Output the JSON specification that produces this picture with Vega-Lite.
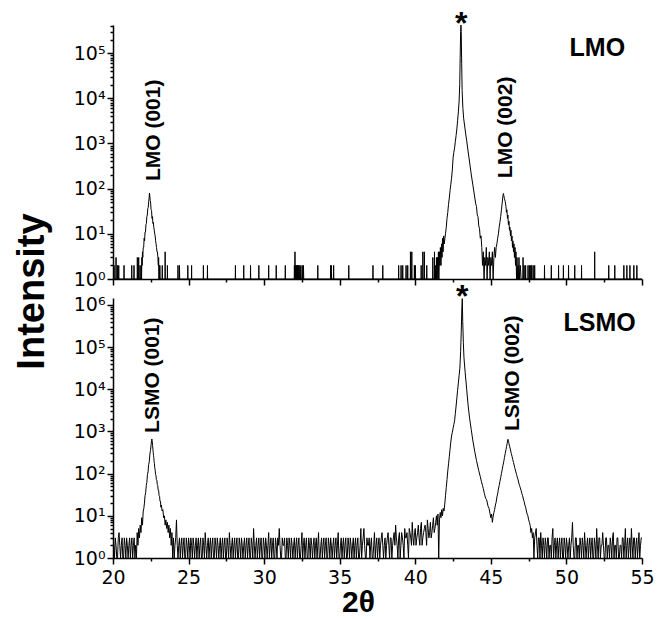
{
"$schema": "https://vega.github.io/schema/vega-lite/v6.json",
"background": "white",
"padding": {"left": 13, "top": 8, "right": 5, "bottom": 2},
"config": {
  "view": {"stroke": null},
  "axis": {"domainColor": "black", "domainWidth": 1.5, "tickColor": "black", "tickWidth": 1.5, "labelColor": "black", "labelFont": "DejaVu Sans", "labelFontSize": 19, "grid": false, "titleColor": "black", "labelOverlap": false, "labelFlush": false}
},
"spacing": 19,
"bounds": "flush",
"datasets": {
"lmo": [
{"x":20.0,"y":1},{"x":20.06,"y":1},{"x":20.07,"y":2},{"x":20.08,"y":1},{"x":20.19,"y":1},{"x":20.2,"y":3},{"x":20.21,"y":1},{"x":20.28,"y":1},{"x":20.29,"y":2},{"x":20.3,"y":1},{"x":20.37,"y":1},{"x":20.38,"y":2},{"x":20.39,"y":1},{"x":20.72,"y":1},{"x":20.73,"y":2},{"x":20.74,"y":1},{"x":21.23,"y":1},{"x":21.24,"y":2},{"x":21.25,"y":1},{"x":21.38,"y":1},{"x":21.39,"y":2},{"x":21.4,"y":1},{"x":21.6,"y":1},{"x":21.61,"y":3},{"x":21.62,"y":1},{"x":21.69,"y":1},{"x":21.7,"y":3},{"x":21.71,"y":1},{"x":21.78,"y":1},{"x":21.79,"y":2},{"x":21.8,"y":1},
{"x":21.85,"y":1},{"x":21.87,"y":2},{"x":21.89,"y":1},{"x":21.91,"y":3},{"x":21.93,"y":2},{"x":21.95,"y":4},{"x":21.97,"y":3},{"x":22.0,"y":5},{"x":22.03,"y":5},{"x":22.06,"y":8},{"x":22.09,"y":7},{"x":22.12,"y":11},{"x":22.15,"y":11},{"x":22.18,"y":16},{"x":22.21,"y":17},{"x":22.24,"y":24},{"x":22.27,"y":26},{"x":22.3,"y":36},{"x":22.33,"y":38},{"x":22.36,"y":52},{"x":22.39,"y":62},{"x":22.41,"y":80},{"x":22.43,"y":72},{"x":22.46,"y":55},{"x":22.49,"y":48},{"x":22.52,"y":34},{"x":22.55,"y":33},{"x":22.58,"y":22},{"x":22.61,"y":24},{"x":22.64,"y":17},{"x":22.67,"y":18},{"x":22.7,"y":14},{"x":22.73,"y":12},{"x":22.76,"y":10},{"x":22.79,"y":9},{"x":22.82,"y":7},{"x":22.85,"y":6},{"x":22.88,"y":5},{"x":22.91,"y":4},{"x":22.94,"y":4},{"x":22.97,"y":3},{"x":23.0,"y":2},{"x":23.02,"y":3},{"x":23.04,"y":1},{"x":23.06,"y":2},{"x":23.08,"y":1},{"x":23.1,"y":2},{"x":23.12,"y":1},
{"x":23.25,"y":1},{"x":23.26,"y":2},{"x":23.27,"y":1},{"x":23.44,"y":1},{"x":23.45,"y":4},{"x":23.46,"y":1},{"x":23.59,"y":1},{"x":23.6,"y":2},{"x":23.61,"y":1},{"x":24.29,"y":1},{"x":24.3,"y":2},{"x":24.31,"y":1},{"x":24.39,"y":1},{"x":24.4,"y":2},{"x":24.41,"y":1},{"x":24.94,"y":1},{"x":24.95,"y":2},{"x":24.96,"y":1},{"x":25.19,"y":1},{"x":25.2,"y":2},{"x":25.21,"y":1},{"x":25.97,"y":1},{"x":25.98,"y":2},{"x":25.99,"y":1},{"x":26.24,"y":1},{"x":26.25,"y":2},{"x":26.26,"y":1},{"x":28.09,"y":1},{"x":28.1,"y":2},{"x":28.11,"y":1},{"x":28.64,"y":1},{"x":28.65,"y":2},{"x":28.66,"y":1},{"x":29.09,"y":1},{"x":29.1,"y":2},{"x":29.11,"y":1},{"x":29.64,"y":1},{"x":29.65,"y":2},{"x":29.66,"y":1},{"x":30.29,"y":1},{"x":30.3,"y":2},{"x":30.31,"y":1},{"x":30.79,"y":1},{"x":30.8,"y":2},{"x":30.81,"y":1},{"x":31.39,"y":1},{"x":31.4,"y":2},{"x":31.41,"y":1},
{"x":31.99,"y":1},{"x":32.0,"y":2},{"x":32.02,"y":1},{"x":32.04,"y":4},{"x":32.06,"y":1},{"x":32.08,"y":2},{"x":32.1,"y":1},{"x":32.12,"y":2},{"x":32.14,"y":1},{"x":32.16,"y":2},{"x":32.18,"y":1},{"x":32.2,"y":2},{"x":32.22,"y":1},{"x":32.24,"y":2},{"x":32.26,"y":1},{"x":32.28,"y":2},{"x":32.3,"y":1},{"x":32.32,"y":2},{"x":32.34,"y":1},{"x":32.4,"y":1},{"x":32.42,"y":2},{"x":32.44,"y":1},{"x":32.5,"y":1},{"x":32.52,"y":2},{"x":32.54,"y":1},{"x":32.58,"y":1},{"x":32.6,"y":2},{"x":32.62,"y":1},{"x":33.54,"y":1},{"x":33.55,"y":2},{"x":33.56,"y":1},{"x":34.39,"y":1},{"x":34.4,"y":2},{"x":34.42,"y":1},{"x":34.44,"y":2},{"x":34.46,"y":1},{"x":34.58,"y":1},{"x":34.6,"y":2},{"x":34.61,"y":1},{"x":35.59,"y":1},{"x":35.6,"y":2},{"x":35.61,"y":1},{"x":37.19,"y":1},{"x":37.2,"y":2},{"x":37.21,"y":1},{"x":37.84,"y":1},{"x":37.85,"y":2},{"x":37.86,"y":1},{"x":38.89,"y":1},{"x":38.9,"y":2},{"x":38.91,"y":1},
{"x":39.05,"y":1},{"x":39.06,"y":2},{"x":39.07,"y":1},{"x":39.16,"y":1},{"x":39.17,"y":2},{"x":39.18,"y":1},{"x":39.38,"y":1},{"x":39.39,"y":2},{"x":39.4,"y":1},{"x":39.49,"y":1},{"x":39.5,"y":2},{"x":39.51,"y":1},{"x":39.67,"y":1},{"x":39.68,"y":4},{"x":39.69,"y":1},{"x":39.76,"y":1},{"x":39.77,"y":4},{"x":39.78,"y":1},{"x":39.93,"y":1},{"x":39.94,"y":2},{"x":39.95,"y":1},{"x":40.0,"y":1},{"x":40.01,"y":2},{"x":40.02,"y":1},{"x":40.38,"y":1},{"x":40.39,"y":2},{"x":40.4,"y":1},{"x":40.49,"y":1},{"x":40.5,"y":4},{"x":40.51,"y":1},{"x":40.59,"y":1},{"x":40.6,"y":4},{"x":40.61,"y":1},{"x":40.75,"y":1},{"x":40.76,"y":2},{"x":40.77,"y":1},{"x":41.15,"y":1},{"x":41.16,"y":3},{"x":41.17,"y":1},{"x":41.26,"y":1},{"x":41.27,"y":4},{"x":41.28,"y":1},{"x":41.32,"y":1},{"x":41.33,"y":2},{"x":41.34,"y":1},{"x":41.39,"y":1},{"x":41.4,"y":3},{"x":41.41,"y":1},{"x":41.45,"y":1},{"x":41.47,"y":3},{"x":41.5,"y":1},{"x":41.53,"y":4},{"x":41.56,"y":1},{"x":41.6,"y":4},{"x":41.63,"y":2},{"x":41.66,"y":5},{"x":41.7,"y":2},{"x":41.74,"y":6},{"x":41.77,"y":3},{"x":41.8,"y":8},{"x":41.84,"y":4},{"x":41.88,"y":9},{"x":41.92,"y":6},{"x":41.96,"y":8},
{"x":42.0,"y":10},{"x":42.05,"y":14},{"x":42.1,"y":22},{"x":42.15,"y":30},{"x":42.2,"y":45},{"x":42.25,"y":62},{"x":42.3,"y":90},{"x":42.35,"y":125},{"x":42.4,"y":170},{"x":42.45,"y":260},{"x":42.5,"y":480},{"x":42.55,"y":630},{"x":42.6,"y":800},{"x":42.65,"y":1100},{"x":42.7,"y":1500},{"x":42.75,"y":2100},{"x":42.8,"y":3200},{"x":42.85,"y":5000},{"x":42.9,"y":8700},{"x":42.94,"y":20000},{"x":42.97,"y":80000},{"x":43.0,"y":300000},{"x":43.02,"y":420000},{"x":43.04,"y":300000},{"x":43.07,"y":60000},{"x":43.1,"y":15000},{"x":43.15,"y":6000},{"x":43.2,"y":3600},{"x":43.3,"y":2000},{"x":43.4,"y":1150},{"x":43.5,"y":650},{"x":43.6,"y":370},{"x":43.7,"y":210},{"x":43.8,"y":126},{"x":43.9,"y":76},{"x":44.0,"y":46},{"x":44.05,"y":40},{"x":44.1,"y":26},{"x":44.15,"y":24},{"x":44.2,"y":15},{"x":44.25,"y":13},{"x":44.3,"y":8},{"x":44.35,"y":9},{"x":44.4,"y":5},
{"x":44.45,"y":2},{"x":44.5,"y":4},{"x":44.55,"y":1},{"x":44.6,"y":3},{"x":44.65,"y":2},{"x":44.7,"y":5},{"x":44.75,"y":1},{"x":44.8,"y":3},{"x":44.85,"y":2},{"x":44.9,"y":4},{"x":44.95,"y":1},{"x":45.0,"y":3},{"x":45.05,"y":2},{"x":45.1,"y":4},{"x":45.15,"y":1},{"x":45.2,"y":3},{"x":45.25,"y":5},{"x":45.3,"y":3},{"x":45.35,"y":5},{"x":45.4,"y":6},{"x":45.45,"y":8},{"x":45.5,"y":10},{"x":45.55,"y":14},{"x":45.6,"y":18},{"x":45.65,"y":24},{"x":45.7,"y":34},{"x":45.75,"y":48},{"x":45.8,"y":70},{"x":45.83,"y":78},{"x":45.86,"y":70},{"x":45.9,"y":60},{"x":45.95,"y":52},{"x":46.0,"y":40},{"x":46.03,"y":30},{"x":46.06,"y":34},{"x":46.1,"y":22},{"x":46.13,"y":26},{"x":46.16,"y":16},{"x":46.2,"y":19},{"x":46.23,"y":12},{"x":46.26,"y":14},{"x":46.3,"y":9},{"x":46.33,"y":12},{"x":46.36,"y":7},{"x":46.4,"y":9},{"x":46.43,"y":5},{"x":46.46,"y":7},{"x":46.5,"y":4},{"x":46.53,"y":6},{"x":46.56,"y":3},{"x":46.6,"y":5},{"x":46.63,"y":2},{"x":46.66,"y":4},{"x":46.7,"y":1},{"x":46.73,"y":3},{"x":46.76,"y":1},{"x":46.8,"y":2},{"x":46.83,"y":1},{"x":46.86,"y":3},{"x":46.9,"y":1},{"x":46.95,"y":2},{"x":47.0,"y":1},
{"x":47.12,"y":1},{"x":47.13,"y":3},{"x":47.14,"y":1},{"x":47.19,"y":1},{"x":47.2,"y":2},{"x":47.21,"y":1},{"x":47.29,"y":1},{"x":47.3,"y":2},{"x":47.31,"y":1},{"x":47.45,"y":1},{"x":47.46,"y":2},{"x":47.47,"y":1},{"x":47.54,"y":1},{"x":47.55,"y":2},{"x":47.56,"y":1},{"x":47.63,"y":1},{"x":47.64,"y":2},{"x":47.65,"y":1},{"x":47.69,"y":1},{"x":47.7,"y":2},{"x":47.71,"y":1},{"x":47.79,"y":1},{"x":47.8,"y":2},{"x":47.81,"y":1},{"x":47.89,"y":1},{"x":47.9,"y":2},{"x":47.91,"y":1},{"x":48.54,"y":1},{"x":48.55,"y":2},{"x":48.56,"y":1},{"x":48.99,"y":1},{"x":49.0,"y":2},{"x":49.01,"y":1},{"x":49.47,"y":1},{"x":49.48,"y":2},{"x":49.49,"y":1},{"x":49.79,"y":1},{"x":49.8,"y":2},{"x":49.81,"y":1},{"x":50.13,"y":1},{"x":50.14,"y":2},{"x":50.15,"y":1},{"x":50.54,"y":1},{"x":50.55,"y":2},{"x":50.56,"y":1},{"x":50.99,"y":1},{"x":51.0,"y":2},{"x":51.01,"y":1},{"x":51.86,"y":1},{"x":51.87,"y":4},{"x":51.88,"y":1},{"x":52.79,"y":1},{"x":52.8,"y":2},{"x":52.81,"y":1},{"x":53.19,"y":1},{"x":53.2,"y":2},{"x":53.21,"y":1},{"x":53.79,"y":1},{"x":53.8,"y":2},{"x":53.81,"y":1},{"x":53.99,"y":1},{"x":54.0,"y":2},{"x":54.01,"y":1},{"x":54.19,"y":1},{"x":54.2,"y":2},{"x":54.21,"y":1},{"x":54.45,"y":1},{"x":54.46,"y":2},{"x":54.47,"y":1},{"x":54.65,"y":1},{"x":54.66,"y":2},{"x":54.67,"y":1},{"x":55.0,"y":1}
],
"lsmo": [
{"x":20.0,"y":3},{"x":20.1,"y":1},{"x":20.2,"y":2},{"x":20.3,"y":1},{"x":20.4,"y":4},{"x":20.5,"y":1},{"x":20.6,"y":3},{"x":20.7,"y":1},{"x":20.8,"y":2},{"x":20.9,"y":3},{"x":21.0,"y":1},{"x":21.1,"y":3},{"x":21.2,"y":2},{"x":21.3,"y":1},{"x":21.4,"y":3},{"x":21.5,"y":2},{"x":21.55,"y":1},{"x":21.6,"y":4},{"x":21.65,"y":2},{"x":21.7,"y":5},{"x":21.75,"y":3},{"x":21.8,"y":6},{"x":21.85,"y":4},{"x":21.9,"y":9},{"x":21.95,"y":6},{"x":22.0,"y":13},{"x":22.04,"y":15},{"x":22.08,"y":20},{"x":22.12,"y":30},{"x":22.16,"y":35},{"x":22.2,"y":52},{"x":22.24,"y":62},{"x":22.28,"y":95},{"x":22.32,"y":110},{"x":22.36,"y":165},{"x":22.4,"y":190},{"x":22.44,"y":290},{"x":22.48,"y":350},{"x":22.52,"y":480},{"x":22.55,"y":600},{"x":22.57,"y":660},{"x":22.59,"y":600},{"x":22.62,"y":460},{"x":22.64,"y":380},{"x":22.66,"y":320},{"x":22.68,"y":270},{"x":22.7,"y":240},{"x":22.72,"y":190},{"x":22.74,"y":175},{"x":22.76,"y":140},{"x":22.79,"y":120},{"x":22.82,"y":95},{"x":22.84,"y":92},{"x":22.87,"y":72},{"x":22.9,"y":70},{"x":22.93,"y":55},{"x":22.96,"y":52},{"x":22.99,"y":40},{"x":23.02,"y":40},{"x":23.05,"y":30},{"x":23.08,"y":29},{"x":23.11,"y":22},{"x":23.14,"y":22},{"x":23.17,"y":16},{"x":23.2,"y":18},{"x":23.25,"y":13},{"x":23.3,"y":14},{"x":23.35,"y":9},{"x":23.4,"y":10},{"x":23.45,"y":6},{"x":23.5,"y":8},{"x":23.55,"y":5},{"x":23.6,"y":7},{"x":23.65,"y":4},{"x":23.7,"y":6},{"x":23.75,"y":3},{"x":23.8,"y":5},{"x":23.85,"y":2},{"x":23.9,"y":4},{"x":23.95,"y":1},
{"x":24.0,"y":3},{"x":24.1,"y":2},{"x":24.2,"y":8},{"x":24.3,"y":1},{"x":24.4,"y":3},{"x":24.5,"y":2},{"x":24.6,"y":1},{"x":24.7,"y":3},{"x":24.8,"y":1},{"x":24.9,"y":2},{"x":25.0,"y":3},{"x":25.1,"y":1},{"x":25.2,"y":2},{"x":25.3,"y":3},{"x":25.4,"y":1},{"x":25.5,"y":3},{"x":25.6,"y":2},{"x":25.7,"y":1},{"x":25.8,"y":3},{"x":25.9,"y":1},{"x":26.0,"y":2},{"x":26.1,"y":4},{"x":26.2,"y":1},{"x":26.3,"y":3},{"x":26.4,"y":2},{"x":26.5,"y":1},{"x":26.6,"y":3},{"x":26.7,"y":1},{"x":26.8,"y":2},{"x":26.9,"y":3},{"x":27.0,"y":1},{"x":27.1,"y":3},{"x":27.2,"y":2},{"x":27.3,"y":1},{"x":27.4,"y":3},{"x":27.5,"y":1},{"x":27.6,"y":2},{"x":27.7,"y":4},{"x":27.8,"y":1},{"x":27.9,"y":3},{"x":28.0,"y":2},{"x":28.1,"y":1},{"x":28.2,"y":3},{"x":28.3,"y":1},{"x":28.4,"y":2},{"x":28.5,"y":3},{"x":28.6,"y":1},{"x":28.7,"y":3},{"x":28.8,"y":2},{"x":28.9,"y":1},{"x":29.0,"y":3},{"x":29.1,"y":1},{"x":29.2,"y":2},{"x":29.3,"y":5},{"x":29.4,"y":1},{"x":29.5,"y":3},{"x":29.6,"y":2},{"x":29.7,"y":1},{"x":29.8,"y":3},{"x":29.9,"y":1},
{"x":30.0,"y":2},{"x":30.1,"y":3},{"x":30.2,"y":1},{"x":30.3,"y":4},{"x":30.4,"y":2},{"x":30.5,"y":1},{"x":30.6,"y":3},{"x":30.7,"y":1},{"x":30.8,"y":2},{"x":30.9,"y":3},{"x":31.0,"y":5},{"x":31.1,"y":1},{"x":31.2,"y":3},{"x":31.3,"y":2},{"x":31.4,"y":1},{"x":31.5,"y":3},{"x":31.6,"y":1},{"x":31.7,"y":2},{"x":31.8,"y":3},{"x":31.9,"y":1},{"x":32.0,"y":3},{"x":32.1,"y":2},{"x":32.2,"y":1},{"x":32.3,"y":3},{"x":32.4,"y":1},{"x":32.5,"y":4},{"x":32.6,"y":2},{"x":32.7,"y":1},{"x":32.8,"y":3},{"x":32.9,"y":1},{"x":33.0,"y":2},{"x":33.1,"y":3},{"x":33.2,"y":1},{"x":33.3,"y":3},{"x":33.4,"y":2},{"x":33.5,"y":1},{"x":33.6,"y":4},{"x":33.7,"y":1},{"x":33.8,"y":3},{"x":33.9,"y":2},{"x":34.0,"y":1},{"x":34.1,"y":3},{"x":34.2,"y":1},{"x":34.3,"y":2},{"x":34.4,"y":3},{"x":34.5,"y":1},{"x":34.6,"y":3},{"x":34.7,"y":2},{"x":34.8,"y":1},{"x":34.9,"y":4},
{"x":35.0,"y":1},{"x":35.1,"y":3},{"x":35.2,"y":2},{"x":35.3,"y":1},{"x":35.4,"y":3},{"x":35.5,"y":1},{"x":35.6,"y":2},{"x":35.7,"y":3},{"x":35.8,"y":1},{"x":35.9,"y":3},{"x":36.0,"y":2},{"x":36.1,"y":1},{"x":36.2,"y":3},{"x":36.3,"y":1},{"x":36.4,"y":5},{"x":36.5,"y":2},{"x":36.6,"y":5},{"x":36.7,"y":1},{"x":36.8,"y":3},{"x":36.9,"y":2},{"x":37.0,"y":1},{"x":37.1,"y":3},{"x":37.2,"y":1},{"x":37.3,"y":4},{"x":37.4,"y":2},{"x":37.5,"y":1},{"x":37.6,"y":3},{"x":37.7,"y":2},{"x":37.8,"y":4},{"x":37.9,"y":1},{"x":38.0,"y":3},{"x":38.1,"y":2},{"x":38.2,"y":4},{"x":38.3,"y":1},{"x":38.4,"y":3},{"x":38.5,"y":2},{"x":38.6,"y":4},{"x":38.7,"y":6},{"x":38.8,"y":2},{"x":38.9,"y":3},{"x":39.0,"y":1},{"x":39.1,"y":4},{"x":39.2,"y":2},{"x":39.3,"y":5},{"x":39.4,"y":3},{"x":39.5,"y":2},{"x":39.6,"y":5},{"x":39.7,"y":3},{"x":39.8,"y":7},{"x":39.9,"y":2},
{"x":40.0,"y":5},{"x":40.1,"y":3},{"x":40.2,"y":6},{"x":40.3,"y":2},{"x":40.4,"y":7},{"x":40.5,"y":3},{"x":40.6,"y":5},{"x":40.7,"y":4},{"x":40.8,"y":8},{"x":40.9,"y":3},{"x":41.0,"y":7},{"x":41.1,"y":4},{"x":41.2,"y":9},{"x":41.3,"y":5},{"x":41.4,"y":10},{"x":41.45,"y":6},{"x":41.5,"y":11},{"x":41.55,"y":1},{"x":41.6,"y":8},{"x":41.65,"y":12},{"x":41.7,"y":9},{"x":41.75,"y":14},{"x":41.8,"y":10},{"x":41.85,"y":15},{"x":41.9,"y":13},
{"x":41.95,"y":19},{"x":42.0,"y":30},{"x":42.05,"y":47},{"x":42.1,"y":72},{"x":42.15,"y":115},{"x":42.2,"y":170},{"x":42.25,"y":250},{"x":42.3,"y":380},{"x":42.35,"y":560},{"x":42.4,"y":776},{"x":42.45,"y":955},{"x":42.5,"y":1175},{"x":42.55,"y":1445},{"x":42.6,"y":1778},{"x":42.65,"y":2690},{"x":42.7,"y":4000},{"x":42.75,"y":6166},{"x":42.8,"y":9330},{"x":42.85,"y":14125},{"x":42.9,"y":21380},{"x":42.95,"y":31600},{"x":43.0,"y":79400},{"x":43.04,"y":224000},{"x":43.08,"y":794000},{"x":43.11,"y":1400000},{"x":43.14,"y":400000},{"x":43.18,"y":126000},{"x":43.22,"y":56000},{"x":43.3,"y":25000},{"x":43.4,"y":10000},{"x":43.5,"y":4000},{"x":43.59,"y":2090},{"x":43.7,"y":1120},{"x":43.8,"y":630},{"x":43.93,"y":340},{"x":44.05,"y":204},{"x":44.2,"y":117},{"x":44.3,"y":85},{"x":44.37,"y":66},{"x":44.45,"y":52},{"x":44.5,"y":44},{"x":44.57,"y":34},{"x":44.65,"y":26},{"x":44.72,"y":24},{"x":44.81,"y":17},{"x":44.88,"y":15},{"x":44.95,"y":11},{"x":45.0,"y":9},{"x":45.05,"y":11},{"x":45.1,"y":7},{"x":45.14,"y":9},{"x":45.2,"y":12},{"x":45.25,"y":14},{"x":45.3,"y":18},{"x":45.35,"y":21},{"x":45.4,"y":28},{"x":45.45,"y":33},{"x":45.5,"y":43},{"x":45.55,"y":52},{"x":45.6,"y":65},{"x":45.65,"y":80},{"x":45.7,"y":100},{"x":45.75,"y":125},{"x":45.8,"y":155},{"x":45.85,"y":190},{"x":45.9,"y":240},{"x":45.95,"y":300},{"x":46.0,"y":370},{"x":46.04,"y":440},{"x":46.08,"y":525},{"x":46.13,"y":650},{"x":46.17,"y":580},{"x":46.2,"y":510},{"x":46.25,"y":430},{"x":46.3,"y":363},{"x":46.35,"y":300},{"x":46.4,"y":257},{"x":46.45,"y":215},{"x":46.5,"y":182},{"x":46.54,"y":160},{"x":46.58,"y":138},{"x":46.64,"y":115},{"x":46.7,"y":95},{"x":46.75,"y":82},{"x":46.8,"y":71},{"x":46.85,"y":60},{"x":46.9,"y":52},{"x":46.95,"y":46},{"x":47.0,"y":40},{"x":47.05,"y":34},{"x":47.1,"y":30},{"x":47.15,"y":25},{"x":47.2,"y":22},{"x":47.25,"y":18},{"x":47.3,"y":16},{"x":47.35,"y":13},{"x":47.4,"y":11},{"x":47.45,"y":10},{"x":47.5,"y":8},{"x":47.55,"y":7},{"x":47.6,"y":6},{"x":47.65,"y":4},{"x":47.7,"y":5},{"x":47.75,"y":3},{"x":47.8,"y":4},{"x":47.85,"y":1},{"x":47.9,"y":3},
{"x":48.0,"y":5},{"x":48.1,"y":1},{"x":48.2,"y":3},{"x":48.3,"y":4},{"x":48.4,"y":1},{"x":48.5,"y":2},{"x":48.6,"y":3},{"x":48.7,"y":1},{"x":48.8,"y":3},{"x":48.9,"y":2},{"x":49.0,"y":1},{"x":49.1,"y":5},{"x":49.2,"y":2},{"x":49.3,"y":1},{"x":49.4,"y":3},{"x":49.5,"y":2},{"x":49.6,"y":1},{"x":49.7,"y":3},{"x":49.8,"y":1},{"x":49.9,"y":2},{"x":50.0,"y":3},{"x":50.1,"y":1},{"x":50.2,"y":3},{"x":50.3,"y":2},{"x":50.4,"y":7},{"x":50.5,"y":1},{"x":50.6,"y":3},{"x":50.7,"y":1},{"x":50.8,"y":2},{"x":50.9,"y":3},{"x":51.0,"y":1},{"x":51.1,"y":2},{"x":51.2,"y":4},{"x":51.3,"y":1},{"x":51.4,"y":3},{"x":51.5,"y":2},{"x":51.6,"y":1},{"x":51.7,"y":3},{"x":51.8,"y":1},{"x":51.9,"y":2},{"x":52.0,"y":5},{"x":52.1,"y":1},{"x":52.2,"y":3},{"x":52.3,"y":2},{"x":52.4,"y":4},{"x":52.5,"y":1},{"x":52.6,"y":3},{"x":52.7,"y":1},{"x":52.8,"y":2},{"x":52.9,"y":3},{"x":53.0,"y":1},{"x":53.1,"y":4},{"x":53.2,"y":2},{"x":53.3,"y":1},{"x":53.4,"y":3},{"x":53.5,"y":1},{"x":53.6,"y":2},{"x":53.7,"y":3},{"x":53.8,"y":1},{"x":53.9,"y":5},{"x":54.0,"y":2},{"x":54.1,"y":1},{"x":54.2,"y":3},{"x":54.3,"y":5},{"x":54.4,"y":1},{"x":54.5,"y":3},{"x":54.6,"y":2},{"x":54.7,"y":1},{"x":54.8,"y":4},{"x":54.9,"y":2},{"x":55.0,"y":3},
{"x":20.05,"y":2},{"x":20.15,"y":3},{"x":20.25,"y":1},{"x":20.35,"y":3},{"x":20.45,"y":2},{"x":20.55,"y":2},{"x":20.65,"y":1},{"x":20.75,"y":3},{"x":20.85,"y":1},{"x":20.95,"y":2},{"x":21.05,"y":2},{"x":21.15,"y":1},{"x":21.25,"y":3},{"x":21.35,"y":2},{"x":21.45,"y":1},
{"x":24.05,"y":1},{"x":24.15,"y":3},{"x":24.25,"y":2},{"x":24.35,"y":2},{"x":24.45,"y":1},{"x":24.55,"y":3},{"x":24.65,"y":2},{"x":24.75,"y":1},{"x":24.85,"y":3},{"x":24.95,"y":1},{"x":25.05,"y":2},{"x":25.15,"y":3},{"x":25.25,"y":1},{"x":25.35,"y":2},{"x":25.45,"y":2},{"x":25.55,"y":1},{"x":25.65,"y":3},{"x":25.75,"y":2},{"x":25.85,"y":1},{"x":25.95,"y":3},{"x":26.05,"y":1},{"x":26.15,"y":2},{"x":26.25,"y":2},{"x":26.35,"y":1},{"x":26.45,"y":3},{"x":26.55,"y":2},{"x":26.65,"y":1},{"x":26.75,"y":3},{"x":26.85,"y":1},{"x":26.95,"y":2},{"x":27.05,"y":2},{"x":27.15,"y":1},{"x":27.25,"y":3},{"x":27.35,"y":2},{"x":27.45,"y":1},{"x":27.55,"y":3},{"x":27.65,"y":1},{"x":27.75,"y":2},{"x":27.85,"y":2},{"x":27.95,"y":1},{"x":28.05,"y":3},{"x":28.15,"y":2},{"x":28.25,"y":1},{"x":28.35,"y":3},{"x":28.45,"y":1},{"x":28.55,"y":2},{"x":28.65,"y":2},{"x":28.75,"y":1},{"x":28.85,"y":3},{"x":28.95,"y":2},{"x":29.05,"y":1},{"x":29.15,"y":3},{"x":29.25,"y":1},{"x":29.35,"y":2},{"x":29.45,"y":2},{"x":29.55,"y":1},{"x":29.65,"y":3},{"x":29.75,"y":2},{"x":29.85,"y":1},{"x":29.95,"y":3},
{"x":30.05,"y":1},{"x":30.15,"y":2},{"x":30.25,"y":2},{"x":30.35,"y":1},{"x":30.45,"y":3},{"x":30.55,"y":2},{"x":30.65,"y":1},{"x":30.75,"y":3},{"x":30.85,"y":1},{"x":30.95,"y":2},{"x":31.05,"y":2},{"x":31.15,"y":1},{"x":31.25,"y":2},{"x":31.35,"y":3},{"x":31.45,"y":1},{"x":31.55,"y":2},{"x":31.65,"y":3},{"x":31.75,"y":1},{"x":31.85,"y":2},{"x":31.95,"y":2},{"x":32.05,"y":1},{"x":32.15,"y":3},{"x":32.25,"y":2},{"x":32.35,"y":1},{"x":32.45,"y":2},{"x":32.55,"y":1},{"x":32.65,"y":3},{"x":32.75,"y":2},{"x":32.85,"y":1},{"x":32.95,"y":3},{"x":33.05,"y":1},{"x":33.15,"y":2},{"x":33.25,"y":2},{"x":33.35,"y":1},{"x":33.45,"y":3},{"x":33.55,"y":2},{"x":33.65,"y":1},{"x":33.75,"y":2},{"x":33.85,"y":1},{"x":33.95,"y":3},{"x":34.05,"y":2},{"x":34.15,"y":1},{"x":34.25,"y":3},{"x":34.35,"y":1},{"x":34.45,"y":2},{"x":34.55,"y":2},{"x":34.65,"y":1},{"x":34.75,"y":3},{"x":34.85,"y":2},{"x":34.95,"y":1},
{"x":35.05,"y":2},{"x":35.15,"y":1},{"x":35.25,"y":3},{"x":35.35,"y":2},{"x":35.45,"y":1},{"x":35.55,"y":3},{"x":35.65,"y":1},{"x":35.75,"y":2},{"x":35.85,"y":2},{"x":35.95,"y":1},{"x":36.05,"y":3},{"x":36.15,"y":2},{"x":36.25,"y":1},{"x":36.35,"y":2},{"x":36.45,"y":1},{"x":36.55,"y":3},{"x":36.65,"y":2},{"x":36.75,"y":1},{"x":36.85,"y":2},{"x":36.95,"y":3},{"x":37.05,"y":2},{"x":37.15,"y":1},{"x":37.25,"y":2},{"x":37.35,"y":1},{"x":37.45,"y":3},{"x":37.55,"y":2},{"x":37.65,"y":1},{"x":37.75,"y":3},{"x":37.85,"y":2},{"x":37.95,"y":2},{"x":38.05,"y":1},{"x":38.15,"y":3},{"x":38.25,"y":2},{"x":38.35,"y":3},{"x":38.45,"y":1},{"x":38.55,"y":3},{"x":38.65,"y":2},{"x":38.75,"y":3},{"x":38.85,"y":1},{"x":38.95,"y":4},{"x":39.05,"y":2},{"x":39.15,"y":3},{"x":39.25,"y":1},{"x":39.35,"y":3},{"x":39.45,"y":4},{"x":39.55,"y":1},{"x":39.65,"y":4},{"x":39.75,"y":2},{"x":39.85,"y":3},{"x":39.95,"y":4},
{"x":40.05,"y":2},{"x":40.15,"y":4},{"x":40.25,"y":3},{"x":40.35,"y":5},{"x":40.45,"y":2},{"x":40.55,"y":4},{"x":40.65,"y":6},{"x":40.75,"y":2},{"x":40.85,"y":5},{"x":40.95,"y":4},{"x":41.05,"y":3},{"x":41.15,"y":6},{"x":41.25,"y":4},{"x":41.35,"y":7},
{"x":48.05,"y":2},{"x":48.15,"y":3},{"x":48.25,"y":1},{"x":48.35,"y":2},{"x":48.45,"y":3},{"x":48.55,"y":1},{"x":48.65,"y":2},{"x":48.75,"y":3},{"x":48.85,"y":1},{"x":48.95,"y":2},{"x":49.05,"y":3},{"x":49.15,"y":1},{"x":49.25,"y":3},{"x":49.35,"y":2},{"x":49.45,"y":1},{"x":49.55,"y":3},{"x":49.65,"y":2},{"x":49.75,"y":1},{"x":49.85,"y":3},{"x":49.95,"y":1},{"x":50.05,"y":2},{"x":50.15,"y":2},{"x":50.25,"y":1},{"x":50.35,"y":3},{"x":50.45,"y":2},{"x":50.55,"y":1},{"x":50.65,"y":3},{"x":50.75,"y":2},{"x":50.85,"y":1},{"x":50.95,"y":2},{"x":51.05,"y":3},{"x":51.15,"y":1},{"x":51.25,"y":2},{"x":51.35,"y":2},{"x":51.45,"y":1},{"x":51.55,"y":3},{"x":51.65,"y":2},{"x":51.75,"y":1},{"x":51.85,"y":3},{"x":51.95,"y":1},{"x":52.05,"y":2},{"x":52.15,"y":3},{"x":52.25,"y":1},{"x":52.35,"y":2},{"x":52.45,"y":2},{"x":52.55,"y":1},{"x":52.65,"y":3},{"x":52.75,"y":2},{"x":52.85,"y":1},{"x":52.95,"y":2},{"x":53.05,"y":3},{"x":53.15,"y":1},{"x":53.25,"y":2},{"x":53.35,"y":3},{"x":53.45,"y":1},{"x":53.55,"y":2},{"x":53.65,"y":1},{"x":53.75,"y":3},{"x":53.85,"y":2},{"x":53.95,"y":1},{"x":54.05,"y":3},{"x":54.15,"y":2},{"x":54.25,"y":1},{"x":54.35,"y":2},{"x":54.45,"y":3},{"x":54.55,"y":1},{"x":54.65,"y":3},{"x":54.75,"y":2},{"x":54.85,"y":1},{"x":54.95,"y":3}
],
"lmoPeaks": [{"x":22.69,"y":147,"t":"LMO (001)"},{"x":46.03,"y":171,"t":"LMO (002)"}],
"lmoName": [{"x":50.21,"y":85000,"t":"LMO"}],
"lmoStar": [{"x":43.04,"y":260000,"t":"*"}],
"lsmoPeaks": [{"x":22.66,"y":920,"t":"LSMO (001)"},{"x":46.49,"y":1020,"t":"LSMO (002)"}],
"lsmoName": [{"x":49.81,"y":240000,"t":"LSMO"}],
"lsmoStar": [{"x":43.1,"y":890000,"t":"*"}]
},
"vconcat": [
{
  "width": 529, "height": 254,
  "encoding": {
    "x": {"field": "x", "type": "quantitative", "scale": {"domain": [20, 55], "nice": false, "zero": false},
      "axis": {"values": [20,22.5,25,27.5,30,32.5,35,37.5,40,42.5,45,47.5,50,52.5,55], "labels": false, "title": null,
        "tickSize": {"condition": {"test": "datum.value % 5 == 0", "value": 6}, "value": 3}}},
    "y": {"field": "y", "type": "quantitative", "scale": {"type": "log", "domain": [1, 420000], "nice": false},
      "axis": {"values": [1,2,3,4,5,6,7,8,9,10,20,30,40,50,60,70,80,90,100,200,300,400,500,600,700,800,900,1000,2000,3000,4000,5000,6000,7000,8000,9000,10000,20000,30000,40000,50000,60000,70000,80000,90000,100000,200000,300000,400000],
        "labelExpr": "datum.value == 1 ? '10⁰' : datum.value == 10 ? '10¹' : datum.value == 100 ? '10²' : datum.value == 1000 ? '10³' : datum.value == 10000 ? '10⁴' : datum.value == 100000 ? '10⁵' : ''",
        "tickSize": {"condition": {"test": "datum.value == 1 || datum.value == 10 || datum.value == 100 || datum.value == 1000 || datum.value == 10000 || datum.value == 100000", "value": 6}, "value": 3},
        "labelPadding": 2,
        "title": "Intensity", "titleFont": "Liberation Sans", "titleFontWeight": "bold", "titleFontSize": 38,
        "titleAngle": 270, "titleAlign": "center", "titleBaseline": "alphabetic", "titleX": -70, "titleY": 266}}
  },
  "layer": [
    {"data": {"name": "lmo"}, "mark": {"type": "line", "color": "black", "strokeWidth": 1, "clip": true}},
    {"data": {"name": "lmoPeaks"}, "mark": {"type": "text", "angle": 270, "align": "left", "baseline": "middle", "font": "Liberation Sans", "fontWeight": "bold", "fontSize": 21, "color": "black"}, "encoding": {"text": {"field": "t", "type": "nominal"}}},
    {"data": {"name": "lmoName"}, "mark": {"type": "text", "align": "left", "baseline": "alphabetic", "font": "Liberation Sans", "fontWeight": "bold", "fontSize": 25, "color": "black"}, "encoding": {"text": {"field": "t", "type": "nominal"}}},
    {"data": {"name": "lmoStar"}, "mark": {"type": "text", "align": "center", "baseline": "alphabetic", "font": "Liberation Sans", "fontWeight": "bold", "fontSize": 32, "color": "black"}, "encoding": {"text": {"field": "t", "type": "nominal"}}}
  ]
},
{
  "width": 529, "height": 260,
  "encoding": {
    "x": {"field": "x", "type": "quantitative", "scale": {"domain": [20, 55], "nice": false, "zero": false},
      "axis": {"values": [20,22.5,25,27.5,30,32.5,35,37.5,40,42.5,45,47.5,50,52.5,55],
        "labelExpr": "datum.value % 5 == 0 ? datum.label : ''", "labelPadding": 4,
        "tickSize": {"condition": {"test": "datum.value % 5 == 0", "value": 6}, "value": 3},
        "title": "2θ", "titleFont": "Liberation Sans", "titleFontWeight": "bold", "titleFontSize": 30,
        "titleAlign": "center", "titleBaseline": "alphabetic", "titleX": 245, "titleY": 53}},
    "y": {"field": "y", "type": "quantitative", "scale": {"type": "log", "domain": [1, 1450000], "nice": false},
      "axis": {"values": [1,2,3,4,5,6,7,8,9,10,20,30,40,50,60,70,80,90,100,200,300,400,500,600,700,800,900,1000,2000,3000,4000,5000,6000,7000,8000,9000,10000,20000,30000,40000,50000,60000,70000,80000,90000,100000,200000,300000,400000,500000,600000,700000,800000,900000,1000000],
        "labelExpr": "datum.value == 1 ? '10⁰' : datum.value == 10 ? '10¹' : datum.value == 100 ? '10²' : datum.value == 1000 ? '10³' : datum.value == 10000 ? '10⁴' : datum.value == 100000 ? '10⁵' : datum.value == 1000000 ? '10⁶' : ''",
        "tickSize": {"condition": {"test": "datum.value == 1 || datum.value == 10 || datum.value == 100 || datum.value == 1000 || datum.value == 10000 || datum.value == 100000 || datum.value == 1000000", "value": 6}, "value": 3},
        "labelPadding": 2, "title": null}}
  },
  "layer": [
    {"data": {"name": "lsmo"}, "mark": {"type": "line", "color": "black", "strokeWidth": 1, "clip": true}},
    {"data": {"name": "lsmoPeaks"}, "mark": {"type": "text", "angle": 270, "align": "left", "baseline": "middle", "font": "Liberation Sans", "fontWeight": "bold", "fontSize": 21, "color": "black"}, "encoding": {"text": {"field": "t", "type": "nominal"}}},
    {"data": {"name": "lsmoName"}, "mark": {"type": "text", "align": "left", "baseline": "alphabetic", "font": "Liberation Sans", "fontWeight": "bold", "fontSize": 25, "color": "black"}, "encoding": {"text": {"field": "t", "type": "nominal"}}},
    {"data": {"name": "lsmoStar"}, "mark": {"type": "text", "align": "center", "baseline": "alphabetic", "font": "Liberation Sans", "fontWeight": "bold", "fontSize": 32, "color": "black"}, "encoding": {"text": {"field": "t", "type": "nominal"}}}
  ]
}
]
}
